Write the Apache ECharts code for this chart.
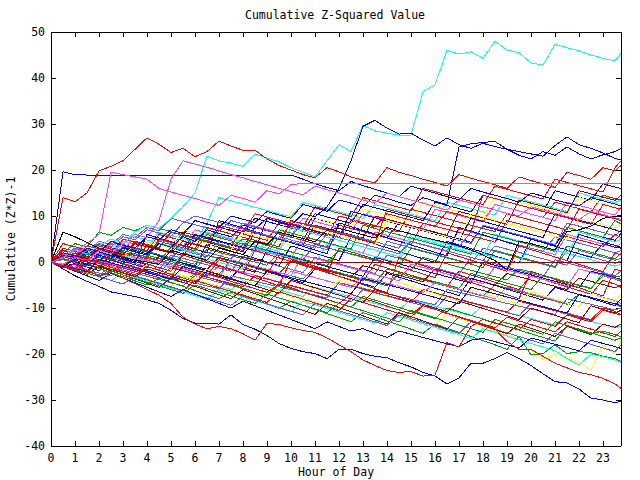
<!DOCTYPE html>
<html>
<head>
<meta charset="utf-8">
<script src="https://cdn.jsdelivr.net/npm/echarts@6/dist/echarts.min.js"></script>
<style>html,body{margin:0;padding:0;background:#fff}#c{width:640px;height:480px}#c svg path{shape-rendering:crispEdges}</style>
</head>
<body>
<div id="c"></div>
<script>
// Sample times (hour of day)
const hours = [0,0.5,1,1.5,2,2.5,3,3.5,4,4.5,5,5.5,6,6.5,7,7.5,8,8.5,9,9.5,10,10.5,11,11.5,12,12.5,13,13.5,14,14.5,15,15.5,16,16.5,17,17.5,18,18.5,19,19.5,20,20.5,21,21.5,22,22.5,23,23.5,23.75];
const xTickValues = [0,1,2,3,4,5,6,7,8,9,10,11,12,13,14,15,16,17,18,19,20,21,22,23];
const yTickValues = [-40,-30,-20,-10,0,10,20,30,40,50];

// Cumulative (Z*Z)-1 series, one array per line
const s01 = [0,2.5,1.8,1.1,3.8,3.1,2.4,5.5, 4.8,4.1,3.4,6.5,5.8,5.1,4.4,3.7, 7,6.3,5.6,4.9,8.2,7.5,6.8,6.1, 5.4,9,8.3,7.6,10.5,9.8,9.1,8.4, 7.7,11,10.3,9.6,8.9,12.5,11.8,11.1, 10.4,9.7,13,12.3,11.6,10.9,14.5,13.8, 13.5];
const s02 = [0,-0.8,1.5,0.8,0.1,2.8,2.1,1.4, 4.5,3.8,3.1,2.4,5.8,5.1,4.4,3.7, 3,7.5,6.8,6.1,5.4,4.7,9.5,8.8, 8.1,7.4,6.7,6,5.3,8.5,7.8,7.1, 6.4,5.7,5,4.3,7.8,7.1,6.4,5.7, 5,4.3,3.6,7.5,6.8,6.1,5.4,4.7, 6.2];
const s03 = [0,-0.7,-1.4,0.8,0.1,-0.6,-1.3,-2, 1.5,0.8,0.1,-0.6,-1.3,-2,-2.7,0.5, -0.2,-0.9,-1.6,-2.3,-3,-3.7,-1,-1.7, -2.4,-3.1,-3.8,-4.5,-5.2,-2.5,-3.2,-3.9, -4.6,-5.3,-6,-6.7,-7.4,-5,-5.7,-6.4, -7.1,-7.8,-8.5,-9.2,-7,-7.7,-8.4,-9.1, -9.8];
const s04 = [0,1.8,1.1,0.4,-0.3,2.5,1.8,1.1, 0.4,-0.3,3.5,2.8,2.1,1.4,0.7,4.2, 3.5,2.8,2.1,1.4,0.7,5.5,4.8,4.1, 3.4,2.7,2,6.5,5.8,5.1,4.4,3.7, 3,2.3,7.2,6.5,5.8,5.1,4.4,3.7, 3,2.3,1.6,6,5.3,4.6,3.9,3.2, 4];
const s05 = [0,-0.6,-1.3,-2,-1,-1.7,-2.4,-3.1, -3.8,-4.5,-2.5,-3.2,-3.9,-4.6,-5.3,-6, -4,-4.7,-5.4,-6.1,-6.8,-7.5,-5.5,-6.2, -6.9,-7.6,-8.3,-9,-9.7,-10.4,-8.2,-8.9, -9.6,-10.3,-11,-11.7,-9.5,-10.2,-10.9,-11.6, -12.3,-13,-13.7,-11.5,-12.2,-12.9,-13.6,-14.3, -14];
const s06 = [0,1,0.3,2.5,1.8,1.1,3.5,2.8, 2.1,1.4,0.7,3.5,2.8,2.1,1.4,0.7, 4,3.3,2.6,1.9,1.2,0.5,3.8,3.1, 2.4,1.7,1,0.3,4.5,3.8,3.1,2.4, 1.7,1,0.3,-0.4,3,2.3,1.6,0.9, 0.2,-0.5,-1.2,2.5,1.8,1.1,0.4,-0.3, 0.2];
const s07 = [0,0.7,0,-0.7,1.5,0.8,0.1,-0.6, -1.3,1.2,0.5,-0.2,-0.9,-1.6,1,0.3, -0.4,-1.1,-1.8,-2.5,0.2,-0.5,-1.2,-1.9, -2.6,-3.3,-0.8,-1.5,-2.2,-2.9,-3.6,-4.3, -1.5,-2.2,-2.9,-3.6,-4.3,-5,-2.5,-3.2, -3.9,-4.6,-5.3,-6,-3.5,-4.2,-4.9,-5.6, -5];
const s08 = [0,-0.8,-1.6,-2.4,-0.5,-1.3,-2.1,-2.9, -3.7,-4.5,-5.3,-3,-3.8,-4.6,-5.4,-6.2, -7,-7.8,-5.5,-6.3,-7.1,-7.9,-8.7,-9.5, -10.3,-8,-8.8,-9.6,-10.4,-11.2,-12,-12.8, -13.6,-11.5,-12.3,-13.1,-14,-14.9,-15.8,-16.7, -19,-21.2,-20,-20.8,-21.8,-23.5,-18,-20, -17];
const s09 = [0,3,2.3,1.6,0.9,4.5,3.8,3.1, 2.4,6,5.3,4.6,3.9,3.2,7.5,6.8, 6.1,5.4,4.7,8.5,7.8,7.1,6.4,5.7, 10,9.3,8.6,7.9,7.2,6.5,11.5,10.8, 10.1,9.4,8.7,8,7.3,6.6,10.5,9.8, 9.1,8.4,7.7,7,11.5,10.8,10.1,9.4, 9];
const s10 = [0,-1,-0.3,-1.1,-1.9,0.5,-0.3,-1.1, -1.9,-2.7,0.5,-0.3,-1.1,-1.9,-2.7,-3.5, -0.5,-1.3,-2.1,-2.9,-3.7,-4.5,-1.5,-2.3, -3.1,-3.9,-4.7,-5.5,-2.5,-3.3,-4.1,-4.9, -5.7,-6.5,-7.3,-3.5,-4.3,-5.1,-5.9,-6.7, -7.5,-8.3,-5.5,-6.3,-7.1,-7.9,-8.7,-9.5, -8];
const s11 = [0,2,1.3,0.6,-0.1,-0.8,2.5,1.8, 1.1,0.4,-0.3,-1,-1.7,1.5,0.8,0.1, -0.6,-1.3,-2,-2.7,0.5,-0.2,-0.9,-1.6, -2.3,-3,-3.7,-4.4,-1.5,-2.2,-2.9,-3.6, -4.3,-5,-5.7,-2.5,-3.2,-3.9,-4.6,-5.3, -6,-3,-3.7,-4.4,-5.1,-5.8,-2.5,-3.2, -3];
const s12 = [0,-0.9,2,1.2,0.4,-0.4,-1.2,-2, 1,0.2,-0.6,-1.4,-2.2,-3,0.5,-0.3, -1.1,-1.9,-2.7,1.5,0.7,-0.1,-0.9,-1.7, -2.5,-3.3,-4.1,-0.5,-1.3,-2.1,-2.9,-3.7, -4.5,-5.3,-2,-2.8,-3.6,-4.4,-5.2,-6, -3,-3.8,-4.6,-5.4,-6.2,-7,-4,-4.8, -5.5];
const s13 = [0,1.2,0.5,3,2.3,1.6,4.5,3.8, 3.1,6.5,5.8,5.1,4.4,8.5,14,13.3, 12.6,11.9,11.2,10.5,9.8,13,12.3,11.6, 10.9,10.2,9.5,12.5,11.8,11.1,10.4,9.7, 9,13,12.3,11.6,10.9,10.2,14.5,13.8, 13.1,12.4,11.7,11,15,14.3,13.6,12.9, 13.5];
const s14 = [0,-0.7,-1.4,-2.1,-2.8,-1,-1.7,-2.4, -3.1,-3.8,-4.5,-5.2,-3,-3.7,-4.4,-5.1, -5.8,-6.5,-7.2,-4.5,-5.2,-5.9,-6.6,-7.3, -8,-8.7,-6,-6.7,-7.4,-8.1,-8.8,-9.5, -10.2,-7.5,-8.2,-8.9,-9.6,-10.3,-11,-11.7, -9,-9.7,-10.4,-11.1,-11.8,-12.5,-10,-10.7, -11.5];
const s15 = [0,1.5,0.8,0.1,2.8,2.1,5,4.3, 3.6,2.9,6.5,5.8,9,8.3,7.6,6.9, 6.2,9.5,8.8,8.1,7.4,6.7,10.5,9.8, 9.1,8.4,12.5,11.8,11.1,10.4,9.7,9, 13,12.3,11.6,10.9,14.5,13.8,13.1,12.4, 11.7,11,15.5,14.8,14.1,13.4,17,16.3, 16];
const s16 = [0,-0.7,1.2,0.5,-0.2,-0.9,-1.6,1, 0.3,-0.4,-1.1,-1.8,-2.5,-3.2,-0.8,-1.5, -2.2,-2.9,-3.6,-4.3,-2,-2.7,-3.4,-4.1, -4.8,-5.5,-3.2,-3.9,-4.6,-5.3,-6,-6.7, -4.5,-5.2,-5.9,-6.6,-7.3,-8,-5.5,-6.2, -6.9,-7.6,-8.3,-9,-9.7,-7,-7.7,-8.4, -9];
const s17 = [0,-0.8,-1.6,-2.4,-3.2,-1.5,-2.3,-3.1, -3.9,-4.7,-5.5,-6.3,-4,-4.8,-5.6,-6.4, -7.2,-8,-8.8,-6.5,-7.3,-8.1,-8.9,-9.7, -10.5,-8,-8.8,-9.6,-10.4,-11.2,-12,-9.5, -10.3,-11.1,-11.9,-12.7,-13.5,-14.3,-12,-12.8, -13.6,-14.4,-15.2,-13,-13.8,-14.6,-15.4,-16.2, -15];
const s18 = [0,-0.9,-1.8,-0.5,-1.4,-2.3,-3.2,-4.1, -5,-3.5,-4.4,-5.3,-6.2,-7.1,-8,-6.5, -7.4,-8.3,-9.2,-10.1,-8.5,-9.4,-10.3,-11.2, -12.1,-13,-11,-11.9,-12.8,-13.7,-14.6,-15.5, -13.5,-14.4,-15.3,-16.2,-17.1,-18,-19,-16.2, -20.2,-19.9,-18,-19.9,-19.5,-19.7,-20.5,-21, -21.7];
const s19 = [0,1,0.2,-0.6,-1.4,-2.2,-0.5,-1.3, -2.1,-2.9,-3.7,-4.5,-2.5,-3.3,-4.1,-4.9, -5.7,-6.5,-7.3,-5,-5.8,-6.6,-7.4,-8.2, -9,-9.8,-7.5,-8.3,-9.1,-9.9,-10.7,-11.5, -12.3,-10,-10.8,-11.6,-12.4,-13.2,-14,-14.8, -15.6,-16.4,-17.2,-14,-14.8,-15.6,-15,-15.8, -16.2];
const s20 = [0,-0.8,-1.6,-2.4,-3.2,-4,-2.5,-3.3, -4.1,-4.9,-5.7,-6.5,-7.3,-8.1,-6,-6.8, -7.6,-8.4,-9.2,-10,-10.8,-8.5,-9.3,-10.1, -10.9,-11.7,-12.5,-13.3,-11,-11.8,-12.6,-13.4, -14.2,-15,-15.8,-16.6,-14.5,-15.3,-16.1,-16.9, -17.7,-18.5,-19.3,-21,-22.4,-20,-20.6,-21.3, -21.8];
const s21 = [0,-0.8,-1.6,2,1.2,0.4,-0.4,3, 2.2,1.4,0.6,-0.2,-1,4,3.2,2.4, 1.6,0.8,0,-0.8,3.5,2.7,1.9,1.1, 0.3,5.5,4.7,3.9,3.1,2.3,1.5,0.7, -0.1,4.5,3.7,2.9,2.1,1.3,0.5,-0.3, 5,4.2,3.4,2.6,1.8,1,4,3.2, 3];
const s22 = [0,-0.5,1.5,0.8,3.5,2.8,2.1,1.4, 4.5,3.8,3.1,7,6.3,5.6,4.9,9, 8.3,7.6,6.9,6.2,11,10.3,9.6,8.9, 8.2,7.5,11.5,10.8,10.1,9.4,8.7,13, 12.3,11.6,10.9,10.2,9.5,14.5,13.8,13.1, 12.4,11.7,11,10.3,14,13.3,12.6,11.9, 11.5];
const s23 = [0,-0.8,-1.6,-2.4,-3.2,-4,-4.8,-3, -3.8,-4.6,-5.4,-6.2,-7,-7.8,-8.6,-9.4, -7.5,-8.3,-9.1,-9.9,-10.7,-11.5,-9,-9.8, -10.6,-11.4,-12.2,-13,-13.8,-11.5,-12.3,-13.1, -13.9,-14.7,-15.5,-13,-13.8,-14.6,-15.4,-16.2, -17,-17.8,-15.5,-16.3,-17.1,-17.9,-18.7,-19.5, -18];
const s24 = [0,4,3.3,2.6,1.9,1.2,5,4.3, 3.6,2.9,2.2,6,5.3,4.6,3.9,3.2, 2.5,7.5,6.8,6.1,5.4,4.7,4,3.3, 8,7.3,6.6,5.9,5.2,4.5,3.8,8.5, 7.8,7.1,6.4,5.7,5,4.3,9,8.3, 7.6,6.9,6.2,5.5,4.8,4.1,3.4,6, 5.3];
const s25 = [0,1.5,0.8,0.1,2.5,1.8,1.1,0.4, 3.5,2.8,2.1,1.4,5,4.3,3.6,2.9, 2.2,6.5,5.8,5.1,4.4,3.7,8,7.3, 6.6,5.9,5.2,10,9.3,8.6,7.9,7.2, 6.5,5.8,11,10.3,9.6,8.9,8.2,13.5, 12.8,12.1,11.4,10.7,15.5,14.8,14.1,13.4, 14.5];
const s26 = [0,0.8,0.1,-0.6,-1.3,1.5,0.8,0.1, -0.6,-1.3,-2,2,1.3,0.6,-0.1,-0.8, -1.5,-2.2,2.5,1.8,1.1,0.4,-0.3,-1, -1.7,-2.4,-3.1,1,0.3,-0.4,-1.1,-1.8, -2.5,-3.2,-3.9,-4.6,0,-0.7,-1.4,-2.1, -2.8,-3.5,-4.2,-4.9,-5.6,-2,-2.7,-3.4, -3.8];
const s27 = [0,-0.6,-1.2,1,0.3,-0.4,2.2,1.5, 0.8,0.1,3.2,2.5,1.8,1.1,4.5,3.8, 3.1,2.4,1.7,5.5,4.8,4.1,3.4,2.7, 6.5,5.8,5.1,4.4,3.7,3,7.5,6.8, 6.1,5.4,4.7,4,8,7.3,6.6,5.9, 5.2,4.5,3.8,8.5,7.8,7.1,6.4,5.7, 7];
const s28 = [0,1,2.8,2.1,1.4,4,3.3,2.6, 5.5,4.8,4.1,3.4,7,6.3,5.6,4.9, 8.5,7.8,7.1,6.4,5.7,9.5,8.8,8.1, 7.4,6.7,10.5,9.8,9.1,8.4,7.7,7, 11.5,10.8,10.1,9.4,8.7,12.5,11.8,11.1, 10.4,9.7,9,13,12.3,11.6,10.9,10.2, 12];
const s29 = [0,-0.7,1.5,0.8,0.1,-0.6,-1.3,-2, -2.7,-3.4,-1.2,-1.9,-2.6,-3.3,-4,-4.7, -5.4,-3,-3.7,-4.4,-5.1,-5.8,-6.5,-7.2, -4.5,-5.2,-5.9,-6.6,-7.3,-8,-8.7,-6, -6.7,-7.4,-8.1,-8.8,-9.5,-10.2,-10.9,-8.5, -9.2,-9.9,-10.6,-11.3,-12,-12.7,-10,-10.7, -11.5];
const s30 = [0,0.8,0.1,2.5,1.8,1.1,0.4,3, 2.3,1.6,0.9,0.2,-0.5,2.8,2.1,1.4, 0.7,0,-0.7,2,1.3,0.6,-0.1,-0.8, 2.5,1.8,1.1,0.4,-0.3,-1,3,2.3, 1.6,0.9,0.2,-0.5,-1.2,2.5,1.8,1.1, 0.4,-0.3,-1,3.5,2.8,2.1,1.4,0.7, 2];
const s31 = [0,-1,-2,-3,-4,-2.5,-3.5,-4.5, -5.5,-6.5,-7.5,-6,-7,-8,-9,-10, -8.5,-9.5,-10.5,-11.5,-12.5,-13.5,-14.5,-13, -14,-15,-14.5,-15.5,-16.4,-15,-15.7,-16.4, -17.1,-17.8,-18.4,-17,-16.6,-17.3,-18,-18.7, -16.5,-17.2,-17.9,-18.6,-19.3,-17,-17.7,-18.4, -18.8];
const s32 = [0,1.5,0.8,3.5,2.8,2.1,1.4,4.5, 3.8,3.1,6.5,5.8,5.1,4.4,8,7.3, 6.6,10.5,9.8,9.1,8.4,7.7,12,11.3, 10.6,9.9,14,13.3,12.6,11.9,11.2,16, 15.3,14.6,13.9,13.2,12.5,16.5,15.8,15.1, 14.4,13.7,18,17.3,16.6,15.9,15.2,20.5, 22];
const s33 = [0,-0.7,1,0.3,-0.4,-1.1,1.5,0.8, 0.1,-0.6,-1.3,2,1.3,0.6,-0.1,-0.8, -1.5,3,2.3,1.6,0.9,0.2,-0.5,4, 3.3,2.6,1.9,1.2,0.5,-0.2,5.5,4.8, 4.1,3.4,2.7,2,1.3,6,5.3,4.6, 3.9,3.2,2.5,1.8,6.5,5.8,5.1,4.4, 5];
const s34 = [0,-0.8,-1.6,0.5,-0.3,-1.1,-1.9,-2.7, -0.5,-1.3,-2.1,-2.9,-3.7,-1.5,-2.3,-3.1, -3.9,-4.7,-2.5,-3.3,-4.1,-4.9,-5.7,-6.5, -4,-4.8,-5.6,-6.4,-7.2,-4.5,-5.3,-6.1, -6.9,-7.7,-8.5,-6,-6.8,-7.6,-8.4,-9.2, -6.5,-7.3,-8.1,-8.9,-9.7,-7,-7.8,-8.6, -7];
const s35 = [0,0.5,-0.2,-0.9,1.8,1.1,0.4,-0.3, -1,-1.7,1.5,0.8,0.1,-0.6,-1.3,-2, 1.2,0.5,-0.2,-0.9,-1.6,-2.3,1,0.3, -0.4,-1.1,-1.8,-2.5,1.5,0.8,0.1,-0.6, -1.3,-2,-2.7,1,0.3,-0.4,-1.1,-1.8, -2.5,-3.2,0.5,-0.2,-0.9,-1.6,-2.3,-3, -2];
const s36 = [0,-0.9,-1.8,-2.7,-1,-1.9,-2.8,-3.7, -4.6,-5.5,-3.5,-4.4,-5.3,-6.2,-7.1,-8, -6,-6.9,-7.8,-8.7,-9.6,-10.5,-11.4,-9, -9.9,-10.8,-11.7,-12.6,-13.5,-11,-11.9,-12.8, -13.7,-14.6,-12,-12.9,-13.8,-14.7,-15.6,-13.5, -14.4,-15.3,-16.2,-14,-14.9,-15.8,-13.5,-14.2, -13.5];
const s37 = [0,6.5,5.5,4.2,3,1.8,1,0.4, 0,-0.5,2.5,1.8,1.1,0.4,3,2.3, 1.6,4.5,3.8,6.5,5.8,5.1,4.4,7, 7.3,6.6,5.9,5.2,7.5,6.8,6.1,5.4, 4.8,4.2,3.5,2.6,1.5,0.3,-1.7,4.5, 4,3.3,2.6,6.6,7,7.8,9.5,9.9, 10.2];
const s38 = [0,1,2.5,1.8,3.5,5,4.2,6.5, 8,7.3,9.5,12,15,23,22,21.5, 20.8,23.5,22.6,21.8,20.5,19.5,18.5,22, 25.5,24,29.7,28.5,28,27.6,27.6,37, 38.5,46,45.2,45.7,44.3,48,46.1,45.5, 43.3,42.8,47.3,46.6,45.9,45,44.3,43.7, 45.4];
const s39 = [0,-1,0.5,-0.5,1.5,0.8,3,2.2, 1.5,4,3.2,5.5,4.5,7,6.2,5.5, 8,7.2,9.5,8.6,8,10.5,9.8,12, 16,22,29.5,30.8,29.1,27.8,28,26.5, 25.2,27,25.5,24.7,25.8,25.1,24.5,24, 23.5,23,25.3,27.2,25.5,24.7,23.7,22.5, 22.2];
const s40 = [0,1.5,1,3,2.2,4.5,3.6,3, 5.5,4.8,7,6.2,9,8.2,7.5,10, 9.3,8.6,11,10.2,9.5,12.5,11.8,11, 13.5,12.8,12,14.5,13.8,13,12.3,14, 13.2,12.5,25,25.7,26,26.2,24.5,23.2, 22.4,24,23.2,25,23.5,22.4,23.3,24, 24.7];
const s41 = [0,19.6,19,18.9,18.9,18.9,18.9,18.9, 18.9,18.9,18.9,18.9,18.9,18.9,18.9,18.9, 18.9,18.9,18.9,18.9,18.9,18,17,16.2, 15.5,17.5,16.6,15.8,15,14.2,16.5,15.7, 15,14.2,13.5,16,15.2,14.5,13.8,13, 15,14.3,13.5,12.8,12.2,14,13.3,12.6, 12.2];
const s42 = [0,14,13.1,15,19.8,20.8,22,24.5, 27,25.6,23.8,24.7,22.9,24,26.3,25.2, 24.3,24.3,22.4,21,20,19,18.3,20.5, 19.6,18.5,17.8,17.2,20.5,19.5,18.8,18, 17.3,16.5,19,18.2,17.5,16.8,16,18.5, 17.7,17,16.2,19.5,18.8,18,20.5,19.8, 21];
const s43 = [0,-0.5,1,0.3,2.5,1.8,4,6, 5.3,9,18,22,21.3,20.6,19.8,19, 18.3,17.5,16.8,16,15.3,14.6,16.5,15.7, 15,14.3,13.5,12.8,15,14.2,13.5,12.8, 12,11.3,13.5,12.8,12,11.3,10.6,10, 12,11.3,10.6,9.9,9.2,11,10.3,9.6, 9.3];
const s44 = [0,-1.5,-3,-4.2,-5.3,-6.5,-7,-7.5, -8.2,-9,-10.5,-12.3,-13.3,-13.3,-13.5,-11.5, -13.6,-14.6,-16,-17.7,-18.8,-19.5,-19.9,-21, -19,-19,-19.9,-20.5,-20.8,-21.9,-22.8,-24, -24.8,-26.5,-25.2,-22,-22,-21,-19.7,-21, -22.5,-24.3,-26,-26.3,-27.6,-29.6,-30,-30.6, -30.3];
const s45 = [0,-1.2,-0.5,-1.8,-3,-2.3,-3.5,-4.7, -6,-7.2,-9,-12,-13.5,-14.5,-14,-14.5, -15.6,-17,-13.3,-13.6,-14.3,-14.9,-15.3,-16.5, -18,-19.5,-21.3,-22.5,-23.6,-24,-23.8,-24.8, -24.6,-17.5,-18.5,-14,-12.5,-13.3,-14,-14.7, -12.5,-13.2,-14,-11.5,-12.3,-13,-10.5,-11.2, -11.5];
const s46 = [0,-0.8,-1.6,0.5,-0.3,-1.2,-2,-2.8, -1,-1.8,-2.7,-3.5,-4.3,-2.5,-3.3,-4.2, -5,-5.8,-6.6,-4.8,-5.6,-6.5,-7.3,-8.1, -9,-7,-7.9,-8.7,-9.6,-10.4,-11.3,-9.5, -10.3,-11.2,-12,-12.9,-13.7,-14.6,-17.3,-19, -19,-20.5,-22,-23,-24,-24.5,-25.3,-26.5, -27.5];
const s47 = [0,1,2.5,4,6,19.5,19,18.5, 18,16,15.2,14.5,13.8,13,12.3,14.5, 13.8,13,15.5,14.8,16.8,17.1,17.1,17.1, 17.1,17.1,17.1,17.1,17.1,17.1,17.1,17.1, 17.1,17.1,17.1,17.1,17.1,17.1,17.1,17.1, 17.1,17.1,17.1,17.1,17.1,17.1,17.1,17.1, 17.1];
const s48 = [0,2,1.4,0.8,3,2.3,1.6,4, 3.3,2.6,2,4.5,3.8,3.1,2.4,1.7, 1,0.4,0,0,0,0,0,0, 0,0,0,0,0,0,0,0, 0,0,0,0,0,0,0,0, 0,0,0,0,0,0,0,0, 0];
const s49 = [0,1.5,3,2.3,4.5,3.8,6,5.3, 7.5,6.8,9.5,8.8,8.1,7.4,6.7,9, 8.3,7.6,6.9,6.2,5.5,8.5,7.8,7.1, 6.4,5.7,5,4.3,7.5,6.8,6.1,5.4, 4.7,4,3.3,6.5,5.8,5.1,4.4,3.7, 3,2.3,5.5,4.8,4.1,3.4,2.7,2, 2.5];
const s50 = [0,2,4,3.3,6.5,5.8,7.5,6.8, 8,7.3,6.6,5.9,5.2,4.5,3.8,3.1, 5,4.3,3.6,2.9,2.2,1.5,0.8,0.1, 2.5,1.8,1.1,0.4,-0.3,-1,-1.7,1, 0.3,-0.4,-1.1,-1.8,-2.5,-3.2,-3.9,-1.5, -2.2,-2.9,-3.6,-4.3,-5,-5.7,-3,-3.7, -4.2];
const s51 = [0,-1,-2,3,2.2,1.4,0.6,-0.2, 6,5.2,4.4,3.6,2.8,2,9,8.2, 7.4,6.6,5.8,5,4.2,3.4,2.6,1.8, 8.5,7.7,6.9,6.1,5.3,4.5,3.7,2.9, 2.1,1.3,7.5,6.7,5.9,5.1,4.3,3.5, 2.7,1.9,1.1,0.3,6,5.2,4.4,3.6, 3.2];
const s52 = [0,-0.9,-1.8,-2.7,1.5,0.6,-0.3,-1.2, -2.1,-3,-3.9,2,1.1,0.2,-0.7,-1.6, -2.5,-3.4,-4.3,-5.2,0.5,-0.4,-1.3,-2.2, -3.1,-4,-4.9,-5.8,-6.7,1,0.1,-0.8, -1.7,-2.6,-3.5,-4.4,-5.3,-6.2,-7.1,-8, -2,-2.9,-3.8,-4.7,-5.6,-6.5,-7.4,-1.5, -2];
const s53 = [0,0.8,2.5,1.8,1.1,3.5,2.8,5.5, 4.8,4.1,3.4,2.7,2,6.5,5.8,5.1, 4.4,3.7,3,2.3,7.5,6.8,6.1,5.4, 4.7,4,3.3,2.6,1.9,1.2,6,5.3, 4.6,3.9,3.2,2.5,1.8,1.1,0.4,-0.3, 4,3.3,2.6,1.9,1.2,0.5,-0.2,-0.9, -0.5];
const s54 = [0,-0.6,-1.2,-1.8,-2.4,-3,-1,-1.6, -2.2,-2.8,-3.4,-4,-4.6,-5.2,-5.8,-3, -3.6,-4.2,-4.8,-5.4,-6,-6.6,-7.2,-7.8, -4.5,-5.1,-5.7,-6.3,-6.9,-7.5,-8.1,-8.7, -9.3,-6,-6.6,-7.2,-7.8,-8.4,-9,-9.6, -10.2,-10.8,-11.4,-8,-8.6,-9.2,-9.8,-10.4, -10];
const s55 = [0,0.7,0,2.2,1.5,0.8,3.2,2.5, 1.8,4.5,3.8,3.1,6,5.3,4.6,3.9, 3.2,2.5,9.5,8.8,8.1,7.4,6.7,6, 5.3,11,10.3,9.6,8.9,8.2,7.5,6.8, 6.1,5.4,4.7,9.5,8.8,8.1,7.4,6.7, 6,5.3,10.5,9.8,9.1,8.4,7.7,7, 6.5];
const s56 = [0,-0.7,-1.4,1,0.3,-0.4,-1.1,-1.8, 0.8,0.1,-0.6,-1.3,-2,-2.7,-3.4,0.5, -0.2,-0.9,-1.6,-2.3,-3,1.5,0.8,0.1, -0.6,-1.3,-2,-2.7,-3.4,-4.1,-0.5,-1.2, -1.9,-2.6,-3.3,-4,-4.7,-1,-1.7,-2.4, -3.1,-3.8,-4.5,-5.2,-1.5,-2.2,-2.9,-3.6, -4];
const s57 = [0,-0.8,-1.6,-2.4,-3.2,-2,-2.8,-3.6, -4.4,-5.2,-6,-6.8,-5,-5.8,-6.6,-7.4, -8.2,-9,-7,-7.8,-8.6,-9.4,-10.2,-11, -9,-9.8,-10.6,-11.4,-12.2,-13,-10.5,-11.3, -12.1,-12.9,-13.7,-14.5,-15.3,-12.5,-13.3,-14.1, -14.9,-15.7,-13,-13.8,-14.6,-15.4,-16.2,-17, -16.5];
const s58 = [0,2,1.3,0.6,3.5,2.8,2.1,1.4, 0.7,5,4.3,3.6,2.9,7.5,6.8,6.1, 5.4,4.7,4,3.3,9,8.3,7.6,6.9, 6.2,5.5,4.8,4.1,11.5,10.8,10.1,9.4, 8.7,8,7.3,6.6,14.5,13.8,13.1,12.4, 11.7,11,10.3,9.6,8.9,8.2,12.5,11.8, 11.5];
const s59 = [0,-0.8,0.8,0,-0.8,-1.6,-2.4,-3.2, -1.5,-2.3,-3.1,-3.9,-4.7,-2,-2.8,-3.6, -4.4,-5.2,-6,-6.8,-4,-4.8,-5.6,-6.4, -7.2,-8,-8.8,-6,-6.8,-7.6,-8.4,-9.2, -10,-10.8,-8.5,-9.3,-10.1,-10.9,-11.7,-12.5, -10,-10.8,-11.6,-12.4,-13.2,-9.5,-10.3,-11.1, -10.5];
const s60 = [0,1,0.3,-0.4,2.5,1.8,1.1,4, 3.3,2.6,1.9,5.5,4.8,4.1,3.4,2.7, 6.5,5.8,5.1,4.4,3.7,8,7.3,6.6, 5.9,5.2,4.5,3.8,9,8.3,7.6,6.9, 6.2,5.5,4.8,10.5,9.8,9.1,8.4,7.7, 7,6.3,5.6,4.9,9.5,8.8,8.1,7.4, 8];
const s61 = [0,1.5,0.8,2.5,4,3.3,5.5,4.8, 7,6.3,5.6,8.5,10,9.3,8.6,7.9, 7.2,6.5,5.8,5.1,4.4,3.7,3,6, 5.3,4.6,3.9,3.2,2.5,1.8,4.5,3.8, 3.1,2.4,1.7,1,0.3,3.5,2.8,2.1, 1.4,0.7,0,-0.7,2.5,1.8,1.1,0.4, 0.8];
const s62 = [0,-0.7,-1.4,-2.1,0.5,-0.2,-0.9,-1.6, -2.3,-3,-3.7,-1,-1.7,-2.4,-3.1,-3.8, -4.5,-5.2,-2,-2.7,-3.4,-4.1,-4.8,-5.5, -6.2,-6.9,-3.5,-4.2,-4.9,-5.6,-6.3,-7, -7.7,-8.4,-9.1,-5.5,-6.2,-6.9,-7.6,-8.3, -9,-9.7,-10.4,-11.1,-7,-7.7,-8.4,-9.1, -9.5];
const s63 = [0,1.2,0.4,-0.4,-1.2,2,1.2,0.4, -0.4,-1.2,-2,1.5,0.7,-0.1,-0.9,-1.7, -2.5,2.5,1.7,0.9,0.1,-0.7,-1.5,-2.3, 3,2.2,1.4,0.6,-0.2,-1,-1.8,-2.6, -3.4,2,1.2,0.4,-0.4,-1.2,-2,3.5, 2.7,1.9,1.1,0.3,-0.5,-1.3,-2.1,2, 1.5];
const s64 = [0,0.7,0,1.8,1.1,0.4,2.5,1.8, 1.1,4.5,3.8,3.1,2.4,6,5.3,4.6, 3.9,3.2,2.5,7,6.3,5.6,4.9,4.2, 3.5,2.8,8,7.3,6.6,5.9,5.2,4.5, 3.8,3.1,2.4,1.7,6.5,5.8,5.1,4.4, 3.7,3,2.3,7.5,6.8,6.1,5.4,9, 8.3];

// drawing order (outlier lines and flat lines last)
const seriesValues = [s01,s02,s03,s04,s05,s06,s07,s08,s09,s10,s11,s12,s13,s14,s15,s16,s17,s18,s19,s20,s21,s22,s23,s24,s25,s26,s27,s28,s29,s30,s31,s32,s33,s34,s35,s36,
  s49,s50,s51,s52,s53,s54,s55,s56,s57,s58,s59,s60,s61,s62,s63,s64,
  s37,s38,s39,s40,s41,s42,s43,s44,s45,s46,s47,s48];

// line colours (style, kept apart from data)
const R='#ff0000', G='#00a000', B='#0000ff', M='#ff40ff', C='#00ffff', D='#a00000', Y='#ffff00', K='#000000', L='#5a5aff';
const lineColors = [R,B,G,M,C,L,D,Y,R,B,G,R,C,L,B,M,R,G,G,C,B,Y,L,R,D,B,L,M,R,G,B,R,C,Y,L,D,
  L,G,B,R,C,L,B,M,G,R,D,Y,L,B,R,G,
  K,C,B,B,B,R,M,B,R,R,M,D];

const FONT = 'DejaVu Sans Mono';
const chart = echarts.init(document.getElementById('c'), null, {renderer:'svg'});

const series = seriesValues.map((vals, k) => ({
  type: 'line',
  data: vals.map((v, i) => [hours[i], v]),
  showSymbol: false,
  symbol: 'none',
  silent: true,
  animation: false,
  lineStyle: { width: 1, color: lineColors[k] },
  itemStyle: { color: lineColors[k] },
  xAxisIndex: 0, yAxisIndex: 0,
  z: 2
}));

const axisCommon = {
  axisLine: { show: true, onZero: false, lineStyle: { color: '#000', width: 1 } },
  splitLine: { show: false },
};
const tickStyle = { show: true, inside: true, length: 5, lineStyle: { color: '#000' } };

chart.setOption({
  backgroundColor: '#fff',
  animation: false,
  title: {
    text: 'Cumulative Z-Squared Value',
    left: 245, top: 9, padding: 0,
    textStyle: { fontFamily: FONT, fontSize: 11.5, fontWeight: 'normal', color: '#000' }
  },
  grid: { left: 51, right: 19, top: 32, bottom: 34, containLabel: false, outerBoundsMode: 'none' },
  xAxis: [
    Object.assign({}, axisCommon, {
      type: 'value', position: 'bottom', min: 0, max: 23.75, interval: 1,
      name: 'Hour of Day', nameLocation: 'middle', nameGap: 20, nameMoveOverlap: false,
      nameTextStyle: { fontFamily: FONT, fontSize: 11.5, color: '#000' },
      axisTick: Object.assign({ customValues: xTickValues }, tickStyle),
      axisLabel: { show: true, margin: 6, fontFamily: FONT, fontSize: 11.5, color: '#000', customValues: xTickValues }
    }),
    Object.assign({}, axisCommon, {
      type: 'value', position: 'top', min: 0, max: 23.75, interval: 1,
      axisTick: Object.assign({ customValues: xTickValues }, tickStyle),
      axisLabel: { show: false }
    })
  ],
  yAxis: [
    Object.assign({}, axisCommon, {
      type: 'value', position: 'left', min: -40, max: 50, interval: 10,
      name: 'Cumulative (Z*Z)-1', nameLocation: 'middle', nameGap: 34, nameRotate: 90, nameMoveOverlap: false,
      nameTextStyle: { fontFamily: FONT, fontSize: 11.5, color: '#000' },
      axisTick: Object.assign({ customValues: yTickValues }, tickStyle),
      axisLabel: { show: true, margin: 6, fontFamily: FONT, fontSize: 11.5, color: '#000', customValues: yTickValues }
    }),
    Object.assign({}, axisCommon, {
      type: 'value', position: 'right', min: -40, max: 50, interval: 10,
      axisTick: Object.assign({ customValues: yTickValues }, tickStyle),
      axisLabel: { show: false }
    })
  ],
  series: series
});
</script>
</body>
</html>
